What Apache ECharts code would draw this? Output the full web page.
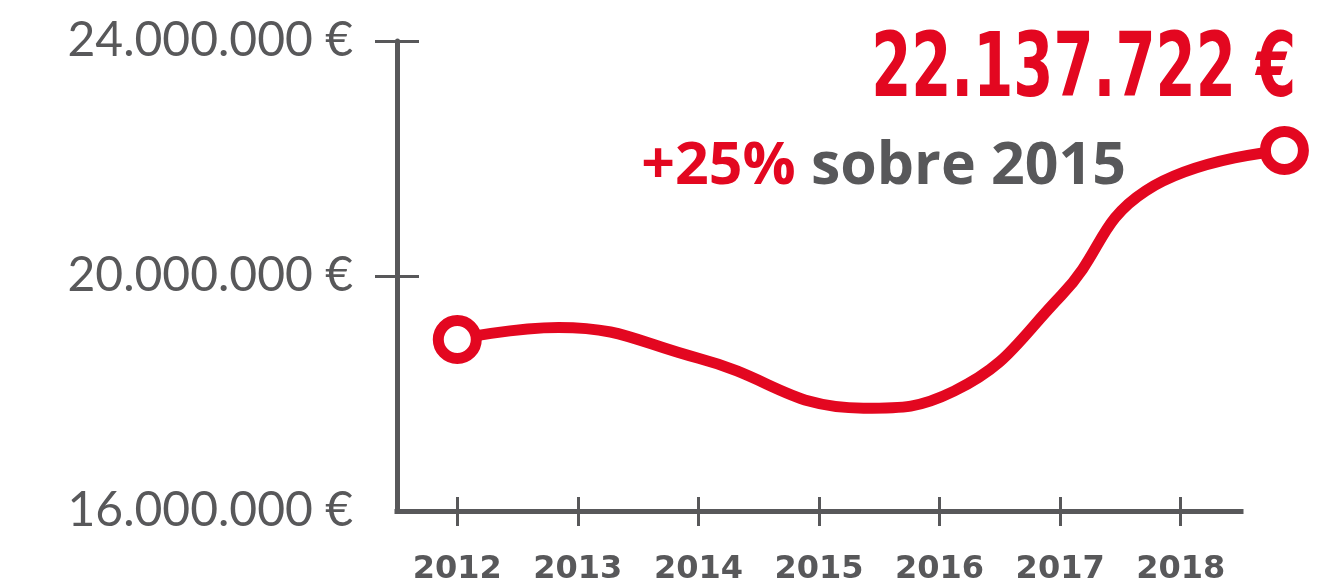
<!DOCTYPE html>
<html>
<head>
<meta charset="utf-8">
<script src="https://cdn.jsdelivr.net/npm/echarts@6/dist/echarts.min.js"></script>
<style>
  html, body { margin: 0; padding: 0; background: #fff; }
  #chart { width: 1331px; height: 586px; }
</style>
</head>
<body>
<div id="chart"></div>
<script>
// axis categories (x labels)
const years = ['2012', '2013', '2014', '2015', '2016', '2017', '2018']
// points: position in years, value in €
const pointYears = [2012, 2012.84, 2014, 2015.37, 2016.12, 2017.01, 2017.71, 2018.86]
const pointValues = [18920000, 19125000, 18600000, 17750000, 18040000, 19670000, 21450000, 22137722]
const yTicks = [16000000, 20000000, 24000000]

const totalText = '22.137.722 €'
const growthText = '+25%'
const growthRest = 'sobre 2015'

const red = '#e30720'
const gray = '#58585a'

const fmt = v => String(v).replace(/\B(?=(\d{3})+(?!\d))/g, '.') + ' €'

const last = pointYears.length - 1
const lineData = pointYears.map((x, i) => ({
    value: [x, pointValues[i]],
    symbol: (i === 0 || i === last) ? 'circle' : 'none'
}))

// visible axes grid: 7 bands of ~120.57px from x=397
// line grid: same scale but wider to the right so the last point is not cut
const left = 397
const band = 844 / 7
const lineMax = 2019.2
const lineRight = 1331 - left - (lineMax - 2011.5) * band

const mychart = echarts.init(document.getElementById('chart'))
mychart.setOption({
    animation: false,
    grid: [
        { left: left, right: 90, top: 41, bottom: 75 },
        { left: left, right: lineRight, top: 41, bottom: 75 }
    ],
    xAxis: [
        {
            type: 'category',
            gridIndex: 0,
            position: 'bottom',
            data: years,
            boundaryGap: true,
            axisLine: { onZero: false, lineStyle: { color: gray, width: 5, cap: 'square' } },
            axisTick: { show: true, alignWithLabel: true, length: 15, lineStyle: { color: gray, width: 3 } },
            axisLabel: {
                margin: 43,
                color: gray,
                fontFamily: 'DejaVu Sans',
                fontWeight: 'bold',
                fontSize: 32
            }
        },
        {
            // inner half of the ticks
            type: 'category',
            gridIndex: 0,
            position: 'bottom',
            data: years,
            boundaryGap: true,
            axisLine: { show: false, onZero: false },
            axisTick: { show: true, inside: true, alignWithLabel: true, length: 14, lineStyle: { color: gray, width: 3 } },
            axisLabel: { show: false }
        },
        {
            type: 'value',
            gridIndex: 1,
            show: false,
            min: 2011.5,
            max: lineMax
        }
    ],
    yAxis: [
        {
            type: 'value',
            gridIndex: 0,
            position: 'left',
            min: yTicks[0],
            max: yTicks[yTicks.length - 1],
            interval: 4000000,
            splitLine: { show: false },
            axisLine: { show: true, onZero: false, lineStyle: { color: gray, width: 5 } },
            axisTick: { show: true, length: 22, customValues: yTicks.slice(1), lineStyle: { color: gray, width: 3 } },
            axisLabel: {
                margin: 44,
                color: gray,
                fontFamily: 'Lato',
                fontWeight: 'normal',
                fontSize: 48,
                formatter: fmt
            }
        },
        {
            type: 'value',
            gridIndex: 0,
            position: 'left',
            min: yTicks[0],
            max: yTicks[yTicks.length - 1],
            interval: 4000000,
            splitLine: { show: false },
            axisLine: { show: false, onZero: false },
            axisTick: { show: true, inside: true, length: 22, customValues: yTicks.slice(1), lineStyle: { color: gray, width: 3 } },
            axisLabel: { show: false }
        },
        {
            type: 'value',
            gridIndex: 1,
            show: false,
            min: yTicks[0],
            max: yTicks[yTicks.length - 1]
        }
    ],
    series: [
        {
            type: 'line',
            xAxisIndex: 2,
            yAxisIndex: 2,
            data: lineData,
            smooth: 0.45,
            clip: false,
            symbolSize: 38,
            lineStyle: { color: red, width: 11 },
            itemStyle: { color: '#fff', borderColor: red, borderWidth: 11 },
            z: 5
        }
    ],
    graphic: [
        {
            type: 'text',
            x: 1296,
            y: 73,
            scaleX: 0.72,
            style: {
                text: totalText,
                align: 'right',
                verticalAlign: 'middle',
                fill: red,
                font: 'bold 89px "DejaVu Sans Condensed", sans-serif'
            }
        },
        {
            type: 'text',
            x: 1126,
            y: 167,
            style: {
                text: '{a|' + growthText + ' }{b|' + growthRest + '}',
                align: 'right',
                verticalAlign: 'middle',
                rich: {
                    a: { fill: red, fontFamily: 'Open Sans', fontWeight: 'bold', fontSize: 59 },
                    b: { fill: gray, fontFamily: 'Open Sans', fontWeight: 'bold', fontSize: 59 }
                }
            }
        }
    ]
})
</script>
</body>
</html>
